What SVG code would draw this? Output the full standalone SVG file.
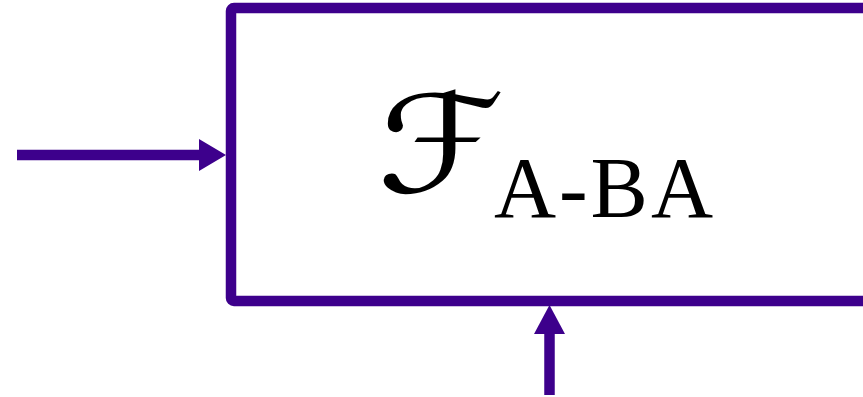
<svg xmlns="http://www.w3.org/2000/svg" width="863" height="397" viewBox="0 0 863 397">
<style>
.ln{stroke:#3d008c;stroke-width:10.5;fill:none}
.hd{fill:#3d008c}
.sub{font-family:"Liberation Serif","Times New Roman",serif;font-size:86px;fill:#000}
.cal{font-family:"DejaVu Serif","DejaVu Sans","Noto Sans",serif;font-size:136px;font-style:italic;fill:#000}
</style>
<rect width="863" height="397" fill="#fff"/>
<g id="block">
<rect class="ln" x="231" y="8" width="700" height="293" rx="3"/>
<text class="cal" transform="translate(377,192) scale(1.2,1)" x="0" y="0">ℱ</text>
<text class="sub" x="494" y="217" textLength="219" lengthAdjust="spacing">A-BA</text>
</g>
<g id="connectors">
<line class="ln" x1="17" y1="155" x2="202" y2="155"/>
<polygon class="hd" points="226,155 199,139 199,171"/>
<line class="ln" x1="549.5" y1="395" x2="549.5" y2="330"/>
<polygon class="hd" points="549.5,305 534,334 565,334"/>
</g>
</svg>
